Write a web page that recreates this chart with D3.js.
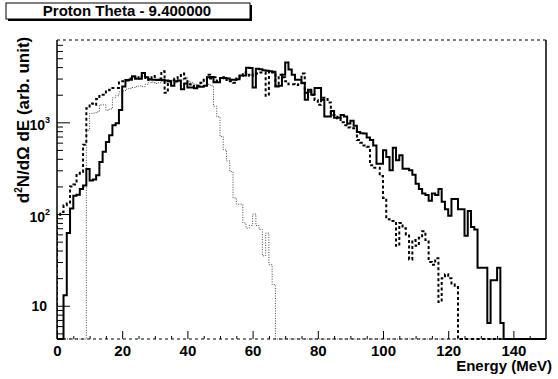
<!DOCTYPE html>
<html>
<head>
<meta charset="utf-8">
<script src="https://cdn.jsdelivr.net/npm/d3@7"></script>
<style>
  body { margin: 0; background: #fff; }
  text { font-family: "Liberation Sans", Arial, sans-serif; font-weight: bold; fill: #000; }
</style>
</head>
<body>
<svg id="chart" width="558" height="379"></svg>
<script>
// histogram: 150 bins of 1 MeV, bins past the end of an array are empty
var nBins = 150;
var binWidth = 1;

var solid = [
  0, 0, 13, 62, 115, 158, 162, 188, 205, 310,
  232, 238, 265, 370, 478, 612, 725, 930, 975, 1360,
  2460, 2850, 2920, 3180, 2980, 2980, 3450, 3100, 2950, 2920,
  2920, 2900, 2900, 2850, 2800, 2500, 2800, 2850, 2300, 2650,
  2400, 2400, 2350, 2450, 2450, 2500, 3100, 3120, 2730, 2730,
  3050, 3050, 3000, 2920, 2920, 2950, 3230, 3250, 3930, 3900,
  2400, 3830, 3800, 3700, 3650, 3600, 3550, 2465, 2500, 3300,
  4500, 3760, 3300, 2920, 2920, 2680, 1760, 2265, 2000, 2370,
  2370, 1760, 1160, 1160, 1330, 1120, 1120, 1200, 1160, 970,
  1040, 920, 785, 760, 757, 685, 640, 560, 354, 354,
  496, 420, 300, 527, 385, 437, 312, 312, 300, 268,
  214, 188, 167, 161, 140, 167, 161, 188, 136, 113,
  96, 146, 146, 113, 113, 58, 108, 72, 68, 26,
  26, 26, 6.5, 19, 19, 26, 6.5
];

var dashed = [
  95, 105, 125, 130, 200, 210, 275, 290, 570, 1425,
  1600, 1550, 1800, 2000, 2000, 2170, 2265, 2370, 2370, 2800,
  2800, 2900, 3000, 3100, 3000, 3200, 3050, 3100, 2900, 3200,
  2900, 3000, 3600, 2100, 2800, 2900, 3000, 3200, 3400, 3000,
  2600, 2500, 2450, 2500, 2700, 3000, 3300, 3000, 3100, 2800,
  3000, 3100, 2900, 2800, 2700, 3000, 3200, 3500, 3300, 3200,
  3300, 3400, 3500, 3500, 1950, 3600, 3500, 2500, 3300, 3100,
  2800, 2600, 2600, 2550, 2600, 3400, 2100, 2150, 2000, 1750,
  1550, 1850, 1800, 1650, 1200, 1200, 1100, 1000, 930, 880,
  860, 860, 640, 600, 560, 540, 340, 320, 320, 260,
  150, 88, 84, 84, 45, 80, 70, 60, 32, 52,
  45, 55, 65, 52, 30, 28, 33, 11, 20, 22,
  20, 17, 16
];

var dotted = [
  0, 0, 0, 0, 0, 0, 0, 0, 0, 820,
  1250, 1260, 1300, 1550, 1550, 1350, 1400, 1850, 1950, 2150,
  2200, 2300, 2350, 2400, 2450, 2500, 2450, 2600, 2700, 2750,
  2650, 2700, 2800, 2750, 2900, 2850, 2700, 2800, 2900, 3100,
  2800, 2700, 2600, 2550, 2700, 2800, 2600, 2500, 1500, 1150,
  700, 500, 380, 290, 150, 128, 128, 80, 70, 75,
  100, 75, 68, 35, 62, 28, 17
];

var xMajorTicks = [0, 20, 40, 60, 80, 100, 120, 140];
var yTickLabels = [
  { v: 10, base: "10", sup: "" },
  { v: 100, base: "10", sup: "2" },
  { v: 1000, base: "10", sup: "3" }
];
var titleText = "Proton Theta - 9.400000";
var xTitle = "Energy (MeV)";

var svg = d3.select("#chart");
var plotL = 57, plotR = 546, plotT = 40, plotB = 339;

var x = d3.scaleLinear().domain([0, nBins * binWidth]).range([plotL, plotR]);
var y = d3.scaleLog().domain([4.34, 7900]).range([plotB, plotT]);

// minor x ticks every 5 MeV
var xMinor = [];
for (var e = 5; e < 150; e += 5) if (e % 20) xMinor.push(e);
// log minor ticks
var yMinor = [];
[1, 10, 100, 1000].forEach(function (d) {
  for (var k = 2; k <= 9; k++) {
    var v = d * k;
    if (v > 4.34 && v < 7900) yMinor.push(v);
  }
});

var gx = svg.append("g").attr("transform", "translate(0," + plotB + ")");
gx.call(d3.axisBottom(x).tickValues(xMinor).tickSize(-3).tickFormat(""));
gx.append("g").call(d3.axisBottom(x).tickValues(xMajorTicks).tickSize(-8).tickPadding(6).tickFormat(d3.format("d")));
gx.selectAll(".domain").remove();
gx.selectAll("line").attr("stroke", "#000").attr("stroke-width", 1);
gx.selectAll("text").attr("font-size", 15).attr("fill", "#000");

var gy = svg.append("g").attr("transform", "translate(" + plotL + ",0)");
gy.call(d3.axisLeft(y).tickValues(yMinor).tickSize(-6).tickFormat(""));
gy.append("g").call(d3.axisLeft(y).tickValues([10, 100, 1000]).tickSize(-13).tickFormat(""));
gy.selectAll(".domain").remove();
gy.selectAll("line").attr("stroke", "#000").attr("stroke-width", 1);

// y labels with powers
yTickLabels.forEach(function (t) {
  var ty = y(t.v);
  var txt = svg.append("text")
    .attr("font-size", 14)
    .attr("text-anchor", "end");
  if (t.sup) {
    txt.attr("x", 50).attr("y", ty + 8);
    txt.append("tspan").text(t.base);
    txt.append("tspan").attr("font-size", 9).attr("dy", -7).text(t.sup);
  } else {
    txt.attr("x", 47).attr("y", ty + 5).text(t.base);
  }
});

// histograms
function histPath(vals) {
  var y0 = y.range()[0];
  var pts = [[x(0), y0]];
  for (var i = 0; i < nBins; i++) {
    var v = vals[i] || 0;
    var yy = v > 0 ? y(v) : y0;
    pts.push([x(i * binWidth), yy], [x((i + 1) * binWidth), yy]);
  }
  pts.push([x(nBins * binWidth), y0]);
  return d3.line()(pts);
}

svg.append("defs").append("clipPath").attr("id", "clip")
  .append("rect").attr("x", plotL).attr("y", plotT)
  .attr("width", plotR - plotL).attr("height", plotB - plotT + 1);

var lines = svg.append("g").attr("clip-path", "url(#clip)");
lines.append("path").attr("d", histPath(dotted))
  .attr("fill", "none").attr("stroke", "#444").attr("stroke-width", 1)
  .attr("stroke-dasharray", "1,1.5");
lines.append("path").attr("d", histPath(dashed))
  .attr("fill", "none").attr("stroke", "#000").attr("stroke-width", 2)
  .attr("stroke-dasharray", "3,2.5");
lines.append("path").attr("d", histPath(solid))
  .attr("fill", "none").attr("stroke", "#000").attr("stroke-width", 2);

// frame
svg.append("line").attr("x1", plotL).attr("x2", plotL).attr("y1", plotT).attr("y2", plotB)
  .attr("stroke", "#000").attr("stroke-width", 1.5);
svg.append("line").attr("x1", plotR).attr("x2", plotR).attr("y1", plotT).attr("y2", plotB)
  .attr("stroke", "#000").attr("stroke-width", 1.5);
svg.append("line").attr("x1", plotL).attr("x2", plotR).attr("y1", plotB).attr("y2", plotB)
  .attr("stroke", "#000").attr("stroke-width", 1).attr("stroke-dasharray", "3,3");
svg.append("line").attr("x1", plotL).attr("x2", plotR).attr("y1", plotT).attr("y2", plotT)
  .attr("stroke", "#000").attr("stroke-width", 1).attr("stroke-dasharray", "3,3");

// axis titles
svg.append("text")
  .attr("x", 552).attr("y", 371)
  .attr("text-anchor", "end").attr("font-size", 15)
  .text(xTitle);

var yt = svg.append("text")
  .attr("transform", "translate(29,120) rotate(-90)")
  .attr("text-anchor", "middle").attr("font-size", 17);
yt.append("tspan").text("d");
yt.append("tspan").attr("font-size", 10).attr("dy", -7).text("2");
yt.append("tspan").attr("dy", 7).text("N/d\u03A9 dE (arb. unit)");

// title box with shadow
svg.append("rect").attr("x", 8).attr("y", 5).attr("width", 244).attr("height", 16).attr("fill", "#000");
svg.append("rect").attr("x", 6).attr("y", 3).attr("width", 244).attr("height", 16)
  .attr("fill", "#fff").attr("stroke", "#000").attr("stroke-width", 1);
svg.append("text")
  .attr("x", 127).attr("y", 16)
  .attr("text-anchor", "middle").attr("font-size", 15)
  .text(titleText);
</script>
</body>
</html>
